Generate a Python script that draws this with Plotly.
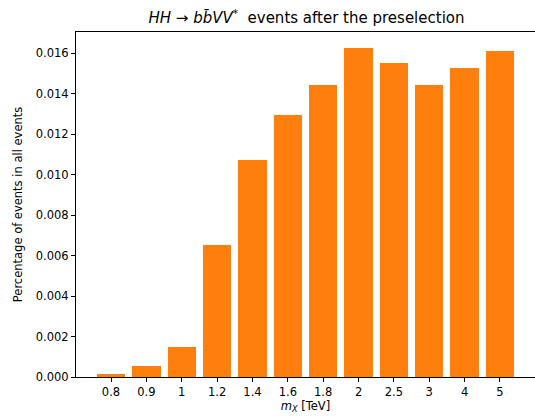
import plotly.graph_objects as go

masses = ["0.8", "0.9", "1", "1.2", "1.4", "1.6", "1.8", "2", "2.5", "3", "4", "5"]
fractions = [0.00015, 0.00054, 0.00149, 0.00654, 0.01075, 0.01298, 0.01446,
             0.01625, 0.01555, 0.01446, 0.01526, 0.0161]
yticks = [0.0, 0.002, 0.004, 0.006, 0.008, 0.010, 0.012, 0.014, 0.016]

x_idx = list(range(len(masses)))

fig = go.Figure(go.Bar(
    x=x_idx, y=fractions, width=0.8,
    marker=dict(color="#ff7f0e", line=dict(width=0)),
))

font = "DejaVu Sans"
fig.update_layout(
    width=535, height=416,
    margin=dict(l=76, r=0, t=32, b=39),
    paper_bgcolor="white", plot_bgcolor="white",
    font=dict(family=font, size=11.5, color="black"),
    showlegend=False,
    bargap=0,
    title=dict(
        text="<i>HH</i> → <i>b</i><i>b\u0304</i><i>VV</i><sup>*</sup>  events after the preselection",
        x=(76 + 537) / 2 / 535, xanchor="center",
        y=1 - 18 / 416, yanchor="middle",
        font=dict(family=font, size=15, color="black"),
    ),
    xaxis=dict(
        range=[-0.99, 11.99],
        tickmode="array", tickvals=x_idx, ticktext=masses,
        ticks="outside", ticklen=4, tickwidth=1, tickcolor="black",
        showline=True, linecolor="black", linewidth=1, mirror=True,
        showgrid=False, zeroline=False,
        title=dict(text="<i>m</i><sub><i>X</i></sub> [TeV]", standoff=2,
                   font=dict(family=font, size=11.5)),
    ),
    yaxis=dict(
        range=[0, 0.01706],
        tickmode="array", tickvals=yticks,
        tickformat=".3f",
        ticks="outside", ticklen=4, tickwidth=1, tickcolor="black",
        showline=True, linecolor="black", linewidth=1, mirror=True,
        showgrid=False, zeroline=False,
        title=dict(text="Percentage of events in all events", standoff=10,
                   font=dict(family=font, size=11.5)),
    ),
)

fig.write_html("out.html")
